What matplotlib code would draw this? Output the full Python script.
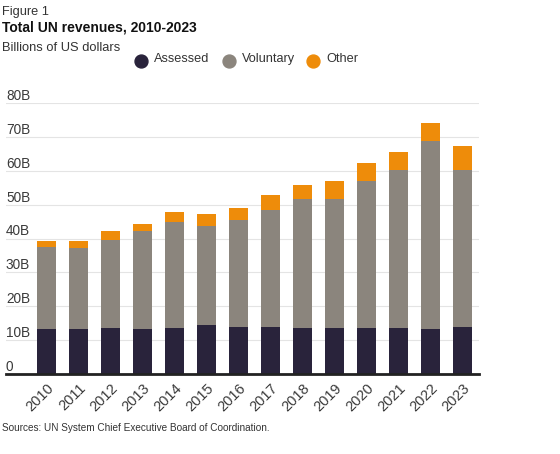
import numpy as np
import matplotlib.pyplot as plt
from matplotlib.lines import Line2D

plt.rcParams['font.family'] = ['Liberation Sans', 'DejaVu Sans']

# data (billions of US dollars)
years = ["2010", "2011", "2012", "2013", "2014", "2015", "2016",
         "2017", "2018", "2019", "2020", "2021", "2022", "2023"]
assessed = [13.2, 13.2, 13.5, 13.2, 13.5, 14.4, 13.8,
            13.8, 13.5, 13.5, 13.5, 13.5, 13.2, 13.8]
voluntary = [24.2, 23.9, 26.2, 28.9, 31.4, 29.3, 31.7,
             34.7, 38.3, 38.3, 43.6, 46.8, 55.6, 46.5]
other = [2.0, 2.3, 2.4, 2.3, 3.0, 3.4, 3.6,
         4.4, 4.1, 5.1, 5.3, 5.3, 5.3, 7.1]
yticks = [0, 10, 20, 30, 40, 50, 60, 70, 80]
ytick_labels = ["0", "10B", "20B", "30B", "40B", "50B", "60B", "70B", "80B"]

c_assessed = "#29233b"
c_voluntary = "#8b857d"
c_other = "#ee8c0a"

fig = plt.figure(figsize=(5.6, 4.54), dpi=100)
ax = fig.add_axes([6/560, 80/454, 473/560, 271/454])

x = np.arange(len(years))
a = np.array(assessed)
v = np.array(voluntary)
o = np.array(other)
ax.bar(x, a, width=0.6, color=c_assessed, zorder=3)
ax.bar(x, v, width=0.6, bottom=a, color=c_voluntary, zorder=3)
ax.bar(x, o, width=0.6, bottom=a + v, color=c_other, zorder=3)

ax.set_xlim(-1.26, 13.52)
ax.set_ylim(0, 80)
ax.set_yticks(yticks)
ax.set_yticklabels([])
ax.tick_params(axis="y", length=0)
for t, lab in zip(yticks, ytick_labels):
    ax.text(0.0, t + 0.9, lab, transform=ax.get_yaxis_transform(),
            ha="left", va="baseline", fontsize=9.8, color="#3a3a3a")
ax.grid(axis="y", color="#e4e4e4", linewidth=0.8, zorder=0)

ax.set_xticks(x)
ax.set_xticklabels(years, rotation=45, ha="right", rotation_mode="anchor",
                   fontsize=10.5, color="#3a3a3a")
ax.tick_params(axis="x", length=0, pad=5)

for s in ["top", "right", "left"]:
    ax.spines[s].set_visible(False)
ax.spines["bottom"].set_color("#222222")
ax.spines["bottom"].set_linewidth(2)
ax.spines["bottom"].set_zorder(4)

# header
fig.text(2/560, 1 - 12/454, "Figure 1", fontsize=9.2, color="#333333", va="center")
fig.text(2/560, 1 - 28/454, "Total UN revenues, 2010-2023", fontsize=10,
         fontweight="bold", color="#111111", va="center")
fig.text(2/560, 1 - 48/454, "Billions of US dollars", fontsize=9.3,
         color="#333333", va="center")

# legend
leg_items = [("Assessed", c_assessed, 141), ("Voluntary", c_voluntary, 229),
             ("Other", c_other, 313)]
for name, col, px in leg_items:
    fig.add_artist(Line2D([px/560], [1 - 61/454], marker="o", markersize=9.3,
                          color=col, linestyle="none", transform=fig.transFigure))
    fig.text((px + 13)/560, 1 - 59/454, name, fontsize=9.2,
             color="#333333", va="center")

fig.text(2/560, 1 - 428/454, "Sources: UN System Chief Executive Board of Coordination.",
         fontsize=7.2, color="#333333", va="center")

fig.savefig("out.png", dpi=100)
